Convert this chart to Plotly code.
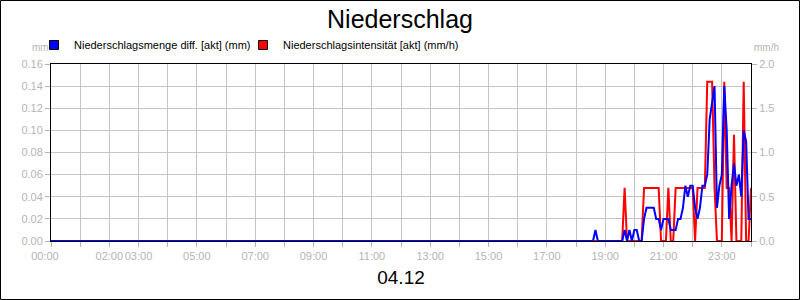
import pandas as pd
import plotly.graph_objects as go

# ---- data (5-minute values, 04.12., 00:00 .. 24:00) ----
DAY = "2024-12-04"
times = pd.date_range(f"{DAY} 00:00", periods=289, freq="5min")

# 00:00 - 17:55 : no precipitation (read as 0 on both series)
dry_blue = [0.0] * 216
dry_red = [0.0] * 216

# Niederschlagsmenge diff. [akt] (mm), 18:00 .. 24:00
menge_18_24 = [
    0, 0, 0, 0, 0, 0, 0, 0, 0.01, 0, 0, 0,                               # 18:00
    0, 0, 0, 0, 0, 0, 0, 0, 0.01, 0, 0.01, 0,                            # 19:00
    0.01, 0.01, 0, 0, 0.02, 0.03, 0.03, 0.03, 0.03, 0.02, 0.02, 0.01,    # 20:00
    0.02, 0.02, 0.02, 0.01, 0.01, 0.01, 0.02, 0.02, 0.03, 0.05, 0.04, 0.05,  # 21:00
    0.05, 0.03, 0.02, 0.03, 0.05, 0.05, 0.06, 0.11, 0.125, 0.14, 0.03, 0.05,  # 22:00
    0.06, 0.14, 0.10, 0.02, 0.05, 0.07, 0.05, 0.06, 0.04, 0.10, 0.09, 0.02,  # 23:00
    0.02,                                                                 # 24:00
]

# Niederschlagsintensität [akt] (mm/h), 18:00 .. 24:00
intens_18_24 = [
    0, 0, 0, 0, 0, 0, 0, 0, 0, 0, 0, 0,                                  # 18:00
    0, 0, 0, 0, 0, 0, 0, 0, 0.6, 0, 0, 0,                                # 19:00
    0, 0, 0, 0, 0.6, 0.6, 0.6, 0.6, 0.6, 0.6, 0.6, 0,                    # 20:00
    0, 0, 0.6, 0, 0, 0.6, 0.6, 0.6, 0.6, 0.6, 0.6, 0.6,                  # 21:00
    0.6, 0, 0.6, 0.6, 0.6, 0.6, 1.8, 1.8, 1.8, 0.6, 0, 0,                # 22:00
    0, 1.8, 0.6, 0.6, 0, 1.2, 0, 0, 0, 1.8, 0, 0,                        # 23:00
    0.6,                                                                  # 24:00
]

menge = dry_blue + menge_18_24
intens = dry_red + intens_18_24

hour_ticks = [f"{h:02d}:00" for h in range(25)]
labeled_hours = ["00:00", "02:00", "03:00", "05:00", "07:00", "09:00", "11:00",
                 "13:00", "15:00", "17:00", "19:00", "21:00", "23:00"]
# label that the original draws nudged to the left of its tick
nudged_left = ["00:00"]

TITLE = "Niederschlag"
DATE_LABEL = "04.12"
NAME_BLUE = "Niederschlagsmenge diff. [akt] (mm)"
NAME_RED = "Niederschlagsintensität [akt] (mm/h)"

# ---- figure ----
FONT = "Liberation Sans, Arial, sans-serif"
GRAY = "#b4b4b4"
GRID = "#c4c4c4"
BLUE = "#0000ff"
RED = "#ff0000"
NBSP = "\u00a0"

tickvals = [pd.Timestamp(f"{DAY} 00:00") + pd.Timedelta(hours=h) for h in range(25)]
ticktext = []
for t in hour_ticks:
    if t not in labeled_hours:
        ticktext.append("")
    elif t in nudged_left:
        ticktext.append(t + NBSP * 4)
    else:
        ticktext.append(t)

fig = go.Figure()
# red (mm/h) on the base axis 'y' (right side), blue (mm) on overlay 'y2' (left side) so blue is drawn on top
fig.add_trace(go.Scatter(x=times, y=intens, mode="lines", yaxis="y",
                         line=dict(color=RED, width=2), showlegend=False, name=NAME_RED))
fig.add_trace(go.Scatter(x=times, y=menge, mode="lines", yaxis="y2",
                         line=dict(color=BLUE, width=2), showlegend=False, name=NAME_BLUE))
# legend entries with square symbols
fig.add_trace(go.Scatter(x=[None], y=[None], mode="markers", name=NAME_BLUE, legend="legend",
                         yaxis="y2",
                         marker=dict(symbol="square", size=9, color=BLUE,
                                     line=dict(color="black", width=1))))
fig.add_trace(go.Scatter(x=[None], y=[None], mode="markers", name=NAME_RED, legend="legend2",
                         marker=dict(symbol="square", size=9, color=RED,
                                     line=dict(color="black", width=1))))

W, H = 800, 300
L, R, T, B = 51, 49, 64, 59
PW, PH = W - L - R, H - T - B


def px_x(x):
    return (x - L) / PW


def px_y(y):
    return (H - B - y) / PH


def legend_at(x_px):
    return dict(orientation="h", x=px_x(x_px), y=px_y(45), xanchor="left", yanchor="middle",
                font=dict(family=FONT, size=11, color="black"),
                bgcolor="rgba(0,0,0,0)", borderwidth=0,
                itemclick=False, itemdoubleclick=False)


axis_common = dict(ticks="outside", ticklen=5, tickcolor=GRAY, tickwidth=1,
                   tickfont=dict(family=FONT, size=11, color=GRAY),
                   showline=True, linecolor="black", linewidth=1,
                   zeroline=False, fixedrange=True, automargin=False)

fig.update_layout(
    width=W, height=H,
    margin=dict(l=L, r=R, t=T, b=B, pad=0, autoexpand=False),
    paper_bgcolor="white", plot_bgcolor="white",
    font=dict(family=FONT, size=11, color="black"),
    title=dict(text=TITLE, x=0.5, xref="container", xanchor="center",
               y=1 - 19 / H, yref="container", yanchor="middle",
               font=dict(family=FONT, size=25, color="black")),
    legend=legend_at(34),
    legend2=legend_at(243),
    xaxis=dict(type="date", range=[tickvals[0], tickvals[-1]],
               tickmode="array", tickvals=tickvals, ticktext=ticktext, tickangle=0,
               showgrid=True, gridcolor=GRID, gridwidth=1, mirror=True,
               title=dict(text=DATE_LABEL, standoff=9,
                          font=dict(family=FONT, size=19, color="black")),
               **axis_common),
    yaxis=dict(range=[0, 2.0], tickmode="linear", tick0=0, dtick=0.5, tickformat=".1f",
               side="right", showgrid=False, **axis_common),
    yaxis2=dict(range=[0, 0.16], tickmode="linear", tick0=0, dtick=0.02, tickformat=".2f",
                overlaying="y", side="left",
                showgrid=True, gridcolor=GRID, gridwidth=1, **axis_common),
    annotations=[
        dict(text="mm", xref="paper", yref="paper", x=px_x(40), y=px_y(47),
             xanchor="center", yanchor="middle", showarrow=False,
             font=dict(family=FONT, size=10, color=GRAY)),
        dict(text="mm/h", xref="paper", yref="paper", x=px_x(766), y=px_y(47),
             xanchor="center", yanchor="middle", showarrow=False,
             font=dict(family=FONT, size=10, color=GRAY)),
    ],
    shapes=[
        dict(type="rect", xref="paper", yref="paper",
             x0=px_x(0.5), x1=px_x(W - 0.5), y0=px_y(H - 0.5), y1=px_y(0.5),
             line=dict(color="black", width=1), fillcolor="rgba(0,0,0,0)", layer="above"),
    ],
)

fig.write_html("out.html", config={"displayModeBar": False})
